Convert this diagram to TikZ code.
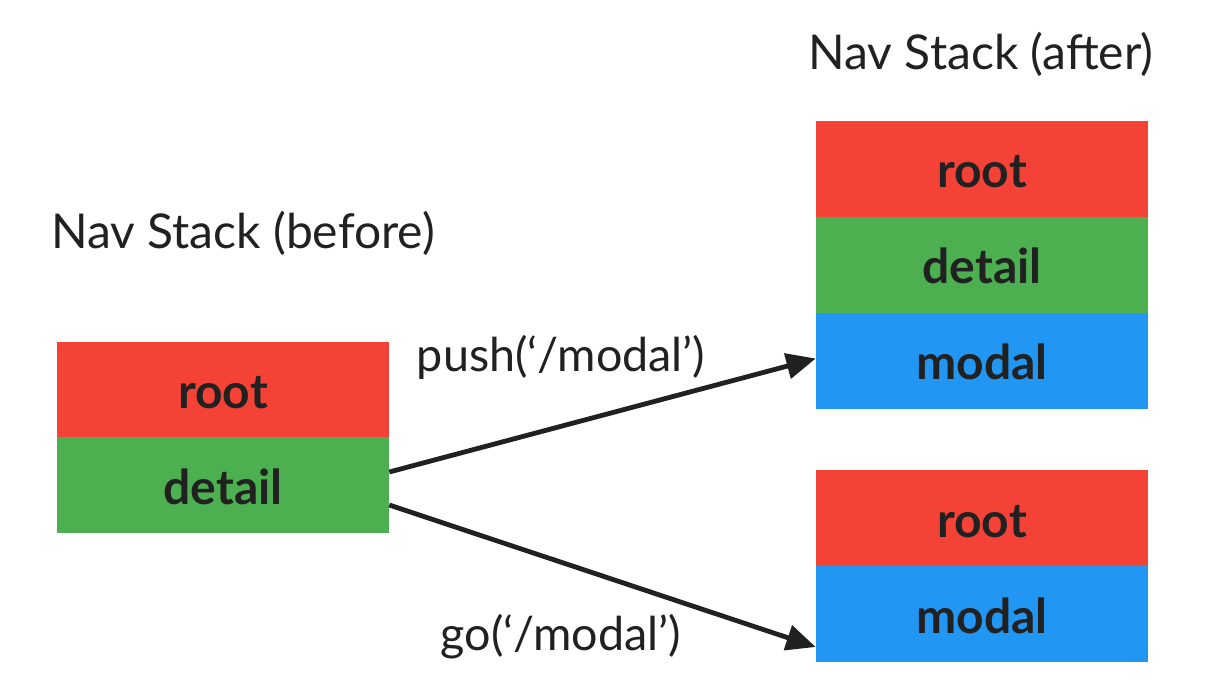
\documentclass[tikz,border=0pt]{standalone}
\usepackage{fontspec}
\setmainfont{Lato}
\usepackage{tikz}
\usetikzlibrary{arrows.meta}

\definecolor{stackred}{HTML}{F44336}
\definecolor{stackgreen}{HTML}{4CAF50}
\definecolor{stackblue}{HTML}{2196F3}
\definecolor{inkdark}{HTML}{212121}

\begin{document}
\begin{tikzpicture}[
    x=0.75pt, y=-0.75pt,
    cell_node/.style={rectangle, inner sep=0pt, minimum width=249pt, minimum height=72pt, text height=32.4pt, text depth=3.2pt, text=inkdark, font=\fontsize{36}{40}\selectfont\bfseries},
    root_cell/.style={cell_node, fill=stackred},
    detail_cell/.style={cell_node, fill=stackgreen},
    modal_cell/.style={cell_node, fill=stackblue},
    title_node/.style={inner sep=0pt, text=inkdark, font=\fontsize{36}{40}\selectfont},
    call_label/.style={title_node, font=\fontsize{35}{40}\selectfont},
    move_arrow/.style={draw=inkdark, line width=3.6pt, -{Triangle[length=22pt, width=19pt]}}
]
\useasboundingbox (0,0) rectangle (1207,687);

% titles
\node[title_node] (before_title) at (243,233) {Nav Stack (before)};
\node[title_node] (after_title) at (981,54) {Nav Stack (after)};

% stack before
\node[root_cell] (root_b) at (223,389.5) {root};
\node[detail_cell] (detail_b) at (223,485) {detail};

% stack after push
\node[root_cell] (root_a) at (982,168.5) {root};
\node[detail_cell] (detail_a) at (982,264.5) {detail};
\node[modal_cell] (modal_a) at (982,360.5) {modal};

% stack after go
\node[root_cell] (root_c) at (982,518) {root};
\node[modal_cell] (modal_c) at (982,614) {modal};

% transitions
\draw[move_arrow] ([yshift=9.75pt]detail_b.east) -- ([yshift=1.5pt]modal_a.west);
\draw[move_arrow] ([yshift=-15pt]detail_b.east) -- ([yshift=-24.75pt]modal_c.west);

\node[call_label] (push_label) at (561,357) {push(‘/modal’)};
\node[call_label] (go_label) at (561,637) {go(‘/modal’)};

\end{tikzpicture}
\end{document}
